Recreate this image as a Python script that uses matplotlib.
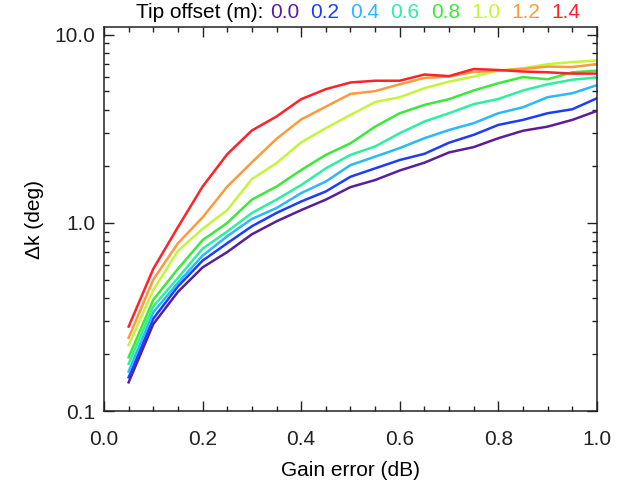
import numpy as np
import matplotlib
matplotlib.use("Agg")
import matplotlib.pyplot as plt
from matplotlib.ticker import MultipleLocator, FixedLocator, NullFormatter
from matplotlib.offsetbox import TextArea, HPacker, AnchoredOffsetbox

plt.rcParams['font.family'] = ['Liberation Sans', 'DejaVu Sans']

gain_error = [0.05, 0.10, 0.15, 0.20, 0.25, 0.30, 0.35, 0.40, 0.45, 0.50,
              0.55, 0.60, 0.65, 0.70, 0.75, 0.80, 0.85, 0.90, 0.95, 1.00]

tip_offsets = ['0.0', '0.2', '0.4', '0.6', '0.8', '1.0', '1.2', '1.4']

dk_00 = [0.142, 0.29, 0.43, 0.58, 0.70, 0.87, 1.02, 1.17, 1.33, 1.55,
         1.69, 1.90, 2.09, 2.37, 2.53, 2.82, 3.09, 3.25, 3.53, 3.94]
dk_02 = [0.151, 0.31, 0.46, 0.63, 0.78, 0.96, 1.13, 1.30, 1.47, 1.76,
         1.95, 2.16, 2.33, 2.67, 2.94, 3.32, 3.53, 3.83, 4.02, 4.60]
dk_04 = [0.162, 0.335, 0.48, 0.67, 0.85, 1.05, 1.20, 1.44, 1.66, 2.03,
         2.25, 2.50, 2.82, 3.12, 3.39, 3.83, 4.12, 4.66, 4.89, 5.40]
dk_06 = [0.178, 0.36, 0.51, 0.73, 0.90, 1.13, 1.33, 1.59, 1.95, 2.30,
         2.55, 3.00, 3.46, 3.83, 4.28, 4.56, 5.06, 5.46, 5.77, 5.93]
dk_08 = [0.193, 0.39, 0.57, 0.81, 1.00, 1.33, 1.56, 1.91, 2.30, 2.65,
         3.25, 3.83, 4.24, 4.55, 5.06, 5.53, 5.96, 5.80, 6.32, 6.45]
dk_10 = [0.224, 0.44, 0.71, 0.93, 1.17, 1.71, 2.08, 2.68, 3.19, 3.75,
         4.39, 4.66, 5.20, 5.64, 6.00, 6.45, 6.64, 6.98, 7.16, 7.30]
dk_12 = [0.245, 0.50, 0.78, 1.07, 1.56, 2.10, 2.80, 3.55, 4.15, 4.85,
         5.02, 5.46, 5.90, 6.00, 6.35, 6.45, 6.58, 6.78, 6.74, 6.98]
dk_14 = [0.281, 0.57, 0.95, 1.56, 2.32, 3.10, 3.68, 4.55, 5.14, 5.58,
         5.70, 5.70, 6.15, 6.03, 6.58, 6.50, 6.38, 6.32, 6.22, 6.22]

all_dk = [dk_00, dk_02, dk_04, dk_06, dk_08, dk_10, dk_12, dk_14]
colors = ['#5a1d9c', '#1e3cff', '#2ab8ff', '#2cf0a0', '#3ce83c',
          '#c4f53a', '#ff9a3a', '#ff2228']

fig = plt.figure(figsize=(6.38, 4.93), dpi=100)
ax = fig.add_axes([0.163, 0.1663, 0.7727, 0.7789])

for dk, c in zip(all_dk, colors):
    ax.plot(gain_error, dk, color=c, lw=1.8)

ax.set_yscale('log')
ax.set_xlim(0, 1)
ax.set_ylim(0.1, 11.0)

ax.xaxis.set_minor_locator(MultipleLocator(0.05))
ax.set_xticks([0, 0.2, 0.4, 0.6, 0.8, 1.0])
ax.set_xticklabels(['0.0', '0.2', '0.4', '0.6', '0.8', '1.0'])
ax.yaxis.set_major_locator(FixedLocator([0.1, 1.0, 10.0]))
ax.set_yticklabels(['0.1', '1.0', '10.0'])
minors = [m * d for d in [0.1, 1.0] for m in range(2, 10)]
ax.yaxis.set_minor_locator(FixedLocator(minors))
ax.yaxis.set_minor_formatter(NullFormatter())

ax.tick_params(which='both', direction='in', top=True, right=True,
               labelsize=15, colors='#222222', width=1.0)
ax.tick_params(which='major', length=7)
ax.tick_params(which='minor', length=3.5)
ax.tick_params(axis='x', which='major', pad=14)
ax.tick_params(axis='y', which='major', pad=6)
for s in ax.spines.values():
    s.set_linewidth(1.1)
    s.set_color('#222222')

ax.set_xlabel('Gain error (dB)', fontsize=15, labelpad=8)
ax.set_ylabel('\u0394k (deg)', fontsize=15, labelpad=8)

# coloured legend line on top
nums = [TextArea(lab, textprops=dict(color=c, fontsize=15))
        for lab, c in zip(tip_offsets, colors)]
num_box = HPacker(children=nums, align='baseline', pad=0, sep=8)
head = TextArea('Tip offset (m):', textprops=dict(color='black', fontsize=15))
box = HPacker(children=[head, num_box], align='baseline', pad=0, sep=5)
anch = AnchoredOffsetbox(loc='center', child=box, pad=0, frameon=False,
                         bbox_to_anchor=(0.561, 0.975),
                         bbox_transform=fig.transFigure, borderpad=0)
fig.add_artist(anch)

fig.savefig('out.png', dpi=100)
